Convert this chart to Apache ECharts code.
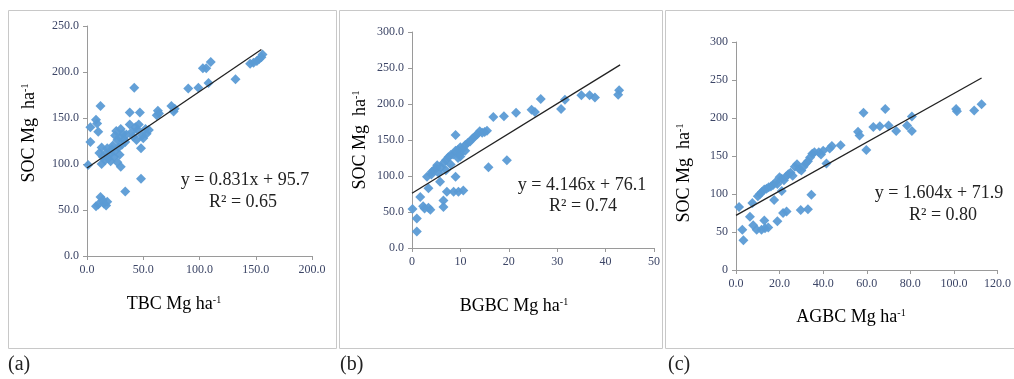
<!DOCTYPE html>
<html><head><meta charset="utf-8">
<script src="https://cdn.jsdelivr.net/npm/echarts@6/dist/echarts.min.js"></script>
<style>html,body{margin:0;padding:0;background:#fff}#c{width:1014px;height:379px}</style>
</head><body><div id="c"></div>
<script>
// Panel (a): TBC vs SOC
const tbcData = [[1,99],[3,140],[3,124],[8,148],[9,144],[10,135],[12,163],[11,112],[13,118],[14,108],[13,100],[16,104],[17,112],[18,117],[19,106],[20,110],[21,103],[22,116],[23,120],[24,108],[25,131],[25,114],[26,136],[27,126],[27,102],[28,118],[29,129],[29,110],[30,97],[30,138],[31,121],[32,133],[33,127],[34,124],[35,132],[38,156],[38,143],[40,135],[41,130],[42,183],[43,140],[44,126],[45,137],[46,143],[47,156],[48,117],[48,84],[49,131],[50,128],[52,138],[53,133],[55,137],[34,70],[8,54],[10,56],[12,64],[14,61],[15,57],[17,55],[18,59],[62,153],[63,158],[64,155],[75,163],[77,157],[78,160],[90,182],[99,183],[103,204],[106,204],[108,188],[110,211],[132,192],[145,209],[148,210],[151,212],[153,214],[155,216],[156,219]];
// Panel (b): BGBC vs SOC
const bgbcData = [[0.1,54],[1,41],[1,23],[1.7,71],[2.3,58],[2.6,55],[3.4,56],[3.8,53],[3.4,83],[3.1,99],[4.1,106],[4,102],[4.5,108],[5,111],[5.2,115],[5.5,104],[6,112],[6.5,118],[7,122],[7.5,126],[8,129],[8.5,130],[9,135],[9.5,136],[10,140],[10.5,138],[11,143],[11.5,146],[12,148],[12.5,152],[13,155],[13.5,158],[14,162],[14.5,160],[15,161],[15.5,163],[7,108],[8,116],[9.5,125],[10,131],[11,135],[5.8,92],[6.5,66],[6.5,57],[7.2,78],[8.6,78],[9.6,78],[10.6,80],[9,157],[9,99],[10,127],[15.8,112],[19.6,122],[16.8,182],[19,183],[21.5,188],[24.7,192],[25.4,189],[26.6,207],[30.8,193],[31.6,206],[35,212],[36.7,212],[37.8,209],[42.6,213],[42.8,219]];
// Panel (c): AGBC vs SOC
const agbcData = [[1.4,83],[2.9,53],[3.4,39],[6.4,70],[7.5,88],[7.9,59],[9.5,53],[11.7,53],[13.3,55],[14.8,56],[13,65],[17.5,92],[19,64],[21.6,75],[23.2,77],[29.7,79],[33,80],[34.6,99],[41.5,140],[56,182],[56.7,177],[58.5,207],[59.8,158],[63,188],[66,189],[68.5,212],[70,190],[73.5,183],[78.5,190],[80.7,202],[80.7,183],[101,212],[101.4,209],[109.3,210],[112.7,218],[10,97],[11,100],[12,103],[13,106],[14,107],[15,109],[16,110],[17,112],[18,115],[19,113],[20,122],[21,120],[22,118],[23,123],[24,126],[25,128],[27,136],[28,139],[29,133],[30,131],[31,136],[32,140],[33,143],[34,148],[35,153],[36,155],[38,155],[40,157],[43,160],[44,163],[48,164],[39,152],[26,124],[21,104]];
// Trend lines (from equations shown): slope, intercept, x range
const slopes = [0.831, 4.146, 1.604];
const intercepts = [95.7, 76.1, 71.9];
const fitRanges = [[0,155],[0,43],[0,112.7]];
const equations = ['y = 0.831x + 95.7','y = 4.146x + 76.1','y = 1.604x + 71.9'];
const r2Labels = ['R² = 0.65','R² = 0.74','R² = 0.80'];
const xNames = ['TBC Mg ha','BGBC Mg ha','AGBC Mg ha'];
const yName = 'SOC Mg  ha';
const panelLabels = ['(a)','(b)','(c)'];
const xTicks = [[0,200,50],[0,50,10],[0,120,20]];
const yTicks = [[0,250,50],[0,300,50],[0,300,50]];

const chart = echarts.init(document.getElementById('c'));
const serif = '"Liberation Serif", "Times New Roman", serif';
const grids = [
  {left:87, top:26, width:225, height:230},
  {left:412, top:32, width:242, height:216},
  {left:736, top:42, width:262, height:228}
];
const xFmt = [v=>v.toFixed(1), v=>String(v), v=>v.toFixed(1)];
const yFmt = [v=>v.toFixed(1), v=>v.toFixed(1), v=>String(v)];
const labColor = '#3c4566';
const axisCol = '#9a9a9a';
const datas = [tbcData, bgbcData, agbcData];

const xAxis = [], yAxis = [], series = [];
for (let i=0;i<3;i++){
  xAxis.push({gridIndex:i, type:'value', min:xTicks[i][0], max:xTicks[i][1], interval:xTicks[i][2],
    splitLine:{show:false}, axisLine:{lineStyle:{color:axisCol}}, axisTick:{show:true,length:4,lineStyle:{color:axisCol}},
    axisLabel:{formatter:xFmt[i], color:labColor, fontFamily:serif, fontSize:12, margin:8}});
  yAxis.push({gridIndex:i, type:'value', min:yTicks[i][0], max:yTicks[i][1], interval:yTicks[i][2],
    splitLine:{show:false}, axisLine:{show:true,lineStyle:{color:axisCol}}, axisTick:{show:true,length:4,lineStyle:{color:axisCol}},
    axisLabel:{formatter:yFmt[i], color:labColor, fontFamily:serif, fontSize:12, margin:8}});
  series.push({type:'scatter', xAxisIndex:i, yAxisIndex:i, data:datas[i], symbol:'diamond', symbolSize:10,
    itemStyle:{color:'#5b9bd5', opacity:0.95}, z:2});
  const r = fitRanges[i];
  series.push({type:'line', xAxisIndex:i, yAxisIndex:i, data:[[r[0], slopes[i]*r[0]+intercepts[i]],[r[1], slopes[i]*r[1]+intercepts[i]]],
    symbol:'none', lineStyle:{color:'#222', width:1.3}, z:3, silent:true});
}

const rich = {a:{fontFamily:serif, fontSize:18, color:'#222', verticalAlign:'bottom', lineHeight:22},
              s:{fontFamily:serif, fontSize:10, color:'#222', verticalAlign:'bottom', lineHeight:22, padding:[0,0,8,0]}};
const graphic = [];
const boxes = [[8,10,328,338],[339,10,323,338],[665,10,352,338]];
boxes.forEach(b=>graphic.push({type:'rect', shape:{x:b[0]+0.5,y:b[1]+0.5,width:b[2],height:b[3]}, style:{fill:'none', stroke:'#c8c8c8', lineWidth:1}, silent:true}));
const eqPos = [[245,180,243,202],[582,185,583,206],[939,193,943,215]];
const xNamePos = [[174,302],[514,304],[851,315]];
const yNamePos = [[27,133],[358,140],[682,173]];
const panelPos = [[8,365],[340,365],[668,365]];
for (let i=0;i<3;i++){
  graphic.push({type:'text', x:eqPos[i][0], y:eqPos[i][1], style:{text:equations[i], font:'18px '+serif, fill:'#222', textAlign:'center', textVerticalAlign:'middle'}});
  graphic.push({type:'text', x:eqPos[i][2], y:eqPos[i][3], style:{text:r2Labels[i], font:'18px '+serif, fill:'#222', textAlign:'center', textVerticalAlign:'middle'}});
  graphic.push({type:'text', x:xNamePos[i][0], y:xNamePos[i][1], style:{text:'{a|'+xNames[i]+'}{s|-1}', rich:rich, textAlign:'center', textVerticalAlign:'middle'}});
  graphic.push({type:'text', x:yNamePos[i][0], y:yNamePos[i][1], rotation:Math.PI/2, style:{text:'{a|'+yName+'}{s|-1}', rich:rich, textAlign:'center', textVerticalAlign:'middle'}});
  graphic.push({type:'text', x:panelPos[i][0], y:panelPos[i][1], style:{text:panelLabels[i], font:'20px '+serif, fill:'#222', textAlign:'left', textVerticalAlign:'middle'}});
}

chart.setOption({animation:false, grid:grids, xAxis:xAxis, yAxis:yAxis, series:series, graphic:graphic});
</script></body></html>
